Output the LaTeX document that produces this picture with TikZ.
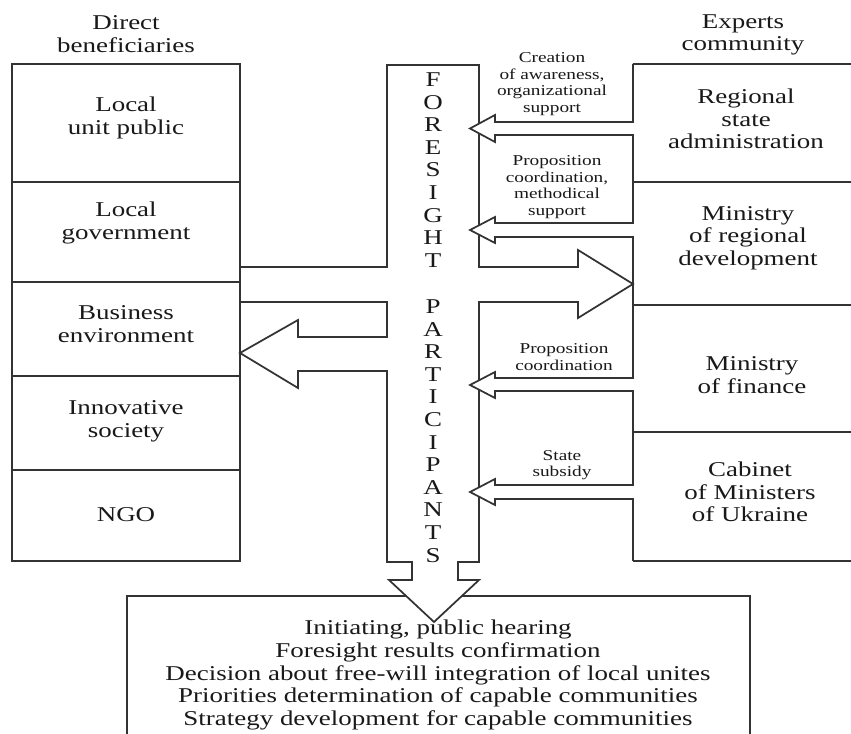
\documentclass[tikz,border=0pt]{standalone}
\usepackage{fontspec}
\setmainfont{Liberation Serif}[FakeStretch=1.28]
\begin{document}
\begin{tikzpicture}[x=0.75pt,y=-0.75pt,
  ln/.style={draw=black!80, line width=1.3pt, line join=miter},
  big/.style={font=\fontsize{15.8}{17}\selectfont, align=center, inner sep=0pt, text=black!90},
  small/.style={font=\fontsize{11.3}{12.5}\selectfont, align=center, inner sep=0pt, text=black!90},
  vert/.style={font=\fontsize{15.8}{16.95}\selectfont, align=center, inner sep=0pt, text=black!90}]
\useasboundingbox (0,0) rectangle (851,734);
\clip (0,0) rectangle (851,734);
\fill[white] (0,0) rectangle (851,734);

% headers
\node[big] (hdL) at (126,34) {Direct\\beneficiaries};
\node[big] (hdR) at (743,35) {Experts\\community};

% left column
\draw[ln] (12,64) rectangle (240,561);
\draw[ln] (12,182) -- (240,182);
\draw[ln] (12,282) -- (240,282);
\draw[ln] (12,376) -- (240,376);
\draw[ln] (12,470) -- (240,470);
\node[big] (l1) at (126,118) {Local\\unit public};
\node[big] (l2) at (126,223) {Local\\government};
\node[big] (l3) at (126,324) {Business\\environment};
\node[big] (l4) at (126,421) {Innovative\\society};
\node[big] (l5) at (126,515) {NGO};

% right column
\draw[ln] (633,64) -- (860,64);
\draw[ln] (633,182) -- (860,182);
\draw[ln] (633,305) -- (860,305);
\draw[ln] (633,432) -- (860,432);
\draw[ln] (633,561) -- (860,561);
\node[big] (r1) at (746,119) {Regional\\state\\administration};
\node[big] (r2) at (748,238) {Ministry\\of regional\\development};
\node[big] (r3) at (752,375) {Ministry\\of finance};
\node[big] (r4) at (750,492) {Cabinet\\of Ministers\\of Ukraine};

% bottom box
\draw[ln] (127,760) -- (127,596) -- (750,596) -- (750,760);
\node[big, font=\fontsize{15.8}{16.9}\selectfont] (res) at (438,675) {Initiating, public hearing\\Foresight results confirmation\\Decision about free-will integration of local unites\\Priorities determination of capable communities\\Strategy development for capable communities};

% central column with block arrows
\fill[white] (389,580) -- (434,622) -- (479,580) -- cycle;
\draw[ln] (240,267) -- (387,267) -- (387,65) -- (479,65) -- (479,267)
  -- (578,267) -- (578,250) -- (633,284) -- (578,318) -- (578,302) -- (479,302)
  -- (479,562) -- (458,562) -- (458,580) -- (479,580) -- (434,622) -- (389,580)
  -- (412,580) -- (412,562) -- (387,562) -- (387,371) -- (298,371) -- (298,388)
  -- (240,353) -- (298,320) -- (298,337) -- (387,337) -- (387,302) -- (240,302);

% arrows from experts community
\fill[white] (633,122) -- (495,122) -- (495,115) -- (470,128.5) -- (495,142) -- (495,135) -- (633,135) -- cycle;
\fill[white] (633,223) -- (495,223) -- (495,217) -- (470,230) -- (495,243) -- (495,237) -- (633,237) -- cycle;
\fill[white] (633,378) -- (495,378) -- (495,372) -- (470,385) -- (495,398) -- (495,391) -- (633,391) -- cycle;
\fill[white] (633,485) -- (495,485) -- (495,479) -- (470,492) -- (495,505) -- (495,499) -- (633,499) -- cycle;
\draw[ln] (633,64) -- (633,122) -- (495,122) -- (495,115) -- (470,128.5) -- (495,142) -- (495,135) -- (633,135)
  -- (633,223) -- (495,223) -- (495,217) -- (470,230) -- (495,243) -- (495,237) -- (633,237)
  -- (633,378) -- (495,378) -- (495,372) -- (470,385) -- (495,398) -- (495,391) -- (633,391)
  -- (633,485) -- (495,485) -- (495,479) -- (470,492) -- (495,505) -- (495,499) -- (633,499)
  -- (633,561);

% arrow labels
\node[small] (a1) at (552,84) {Creation\\of awareness,\\organizational\\support};
\node[small] (a2) at (557,187) {Proposition\\coordination,\\methodical\\support};
\node[small] (a3) at (564,357) {Proposition\\coordination};
\node[small] (a4) at (562,465) {State\\subsidy};

% vertical text
\node[vert] (fs) at (433,170) {F\\O\\R\\E\\S\\I\\G\\H\\T};
\node[vert] (pp) at (433,431) {P\\A\\R\\T\\I\\C\\I\\P\\A\\N\\T\\S};
\end{tikzpicture}
\end{document}
